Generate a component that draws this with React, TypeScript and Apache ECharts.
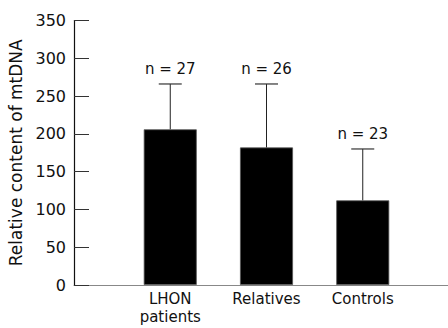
import React, { useEffect, useRef } from "react";
import * as echarts from "echarts";

const categories = ["", "LHON\npatients", "Relatives", "Controls", ""];
const barIndex = [1, 2, 3];
const means = [206, 182, 112];
const upperErrors = [266, 266, 180];
const nLabels = ["n = 27", "n = 26", "n = 23"];
const yTicks = { min: 0, max: 350, interval: 50 };

const FONT = "DejaVu Sans";

export default function App() {
  const ref = useRef<HTMLDivElement>(null);
  useEffect(() => {
    if (!ref.current) return;
    const chart = echarts.init(ref.current, undefined, { renderer: "svg" });
    chart.setOption({
      animation: false,
      grid: {
        left: 74,
        right: 0,
        top: 20.5,
        bottom: 43,
        containLabel: false,
        outerBoundsMode: "none",
      },
      xAxis: {
        type: "category",
        data: categories,
        boundaryGap: false,
        axisLine: { lineStyle: { color: "#888", width: 1.2 } },
        axisTick: { show: false },
        axisLabel: {
          color: "#111",
          fontFamily: FONT,
          fontSize: 15,
          lineHeight: 18,
          margin: 5,
          interval: 0,
        },
        splitLine: { show: false },
      },
      yAxis: {
        type: "value",
        min: yTicks.min,
        max: yTicks.max,
        interval: yTicks.interval,
        name: "Relative content of mtDNA",
        nameLocation: "middle",
        nameGap: 49,
        nameTextStyle: { color: "#111", fontFamily: FONT, fontSize: 17 },
        axisLine: { show: true, lineStyle: { color: "#111", width: 1.2 } },
        axisTick: { show: true, inside: true, length: 15, lineStyle: { color: "#333", width: 1 } },
        axisLabel: { color: "#111", fontFamily: FONT, fontSize: 16, margin: 8 },
        splitLine: { show: false },
      },
      series: [
        {
          type: "bar",
          data: barIndex.map((c, i) => [c, means[i]]),
          barWidth: 53,
          itemStyle: { color: "#000", borderColor: "#555", borderWidth: 0.8 },
        },
        {
          type: "custom",
          data: barIndex.map((c, i) => [c, means[i], upperErrors[i]]),
          renderItem: (params: any, api: any) => {
            const x = api.value(0);
            const base = api.coord([x, api.value(1)]);
            const top = api.coord([x, api.value(2)]);
            return {
              type: "group",
              children: [
                {
                  type: "line",
                  shape: { x1: base[0], y1: base[1], x2: top[0], y2: top[1] },
                  style: { stroke: "#222", lineWidth: 1 },
                },
                {
                  type: "line",
                  shape: { x1: top[0] - 11.5, y1: top[1], x2: top[0] + 11.5, y2: top[1] },
                  style: { stroke: "#333", lineWidth: 1.2 },
                },
                {
                  type: "text",
                  x: top[0],
                  y: top[1] - 15,
                  style: {
                    text: nLabels[params.dataIndex],
                    fill: "#111",
                    font: `15px "${FONT}"`,
                    align: "center",
                    verticalAlign: "middle",
                  },
                },
              ],
            };
          },
          z: 3,
        },
      ],
    });
    return () => chart.dispose();
  }, []);
  return (
    <div style={{ position: "fixed", left: 0, top: 0, width: 448, height: 328, overflow: "hidden", background: "#fff" }}>
      <div ref={ref} style={{ width: 459, height: 328 }} />
    </div>
  );
}
